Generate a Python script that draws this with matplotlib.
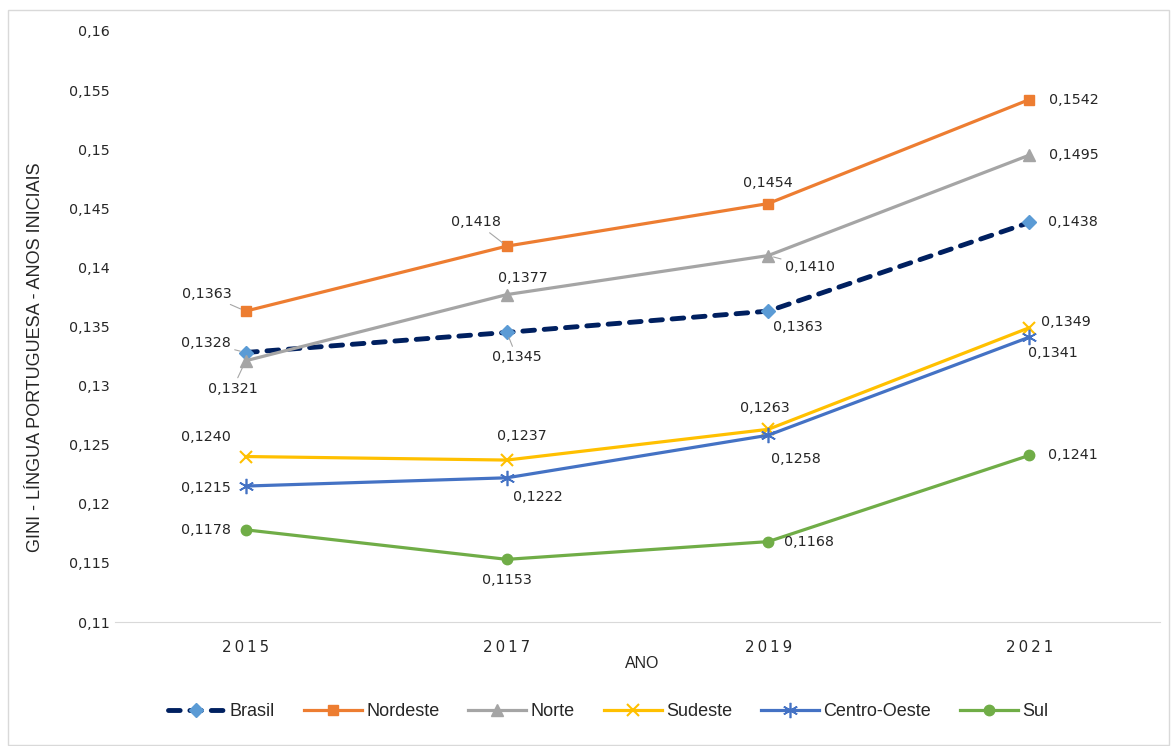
import matplotlib.pyplot as plt
import matplotlib.patches as patches
from matplotlib.ticker import FuncFormatter

anos = ['2015', '2017', '2019', '2021']

brasil = [0.1328, 0.1345, 0.1363, 0.1438]
nordeste = [0.1363, 0.1418, 0.1454, 0.1542]
norte = [0.1321, 0.1377, 0.1410, 0.1495]
sudeste = [0.1240, 0.1237, 0.1263, 0.1349]
centro_oeste = [0.1215, 0.1222, 0.1258, 0.1341]
sul = [0.1178, 0.1153, 0.1168, 0.1241]

nomes = ['Brasil', 'Nordeste', 'Norte', 'Sudeste', 'Centro-Oeste', 'Sul']
series = [brasil, nordeste, norte, sudeste, centro_oeste, sul]

# style per series: color, marker color, marker, marker size
estilos = [
    dict(color='#002060', mfc='#5B9BD5', mec='#5B9BD5', marker='D', ms=7.5),
    dict(color='#ED7D31', mfc='#ED7D31', mec='#ED7D31', marker='s', ms=7.5),
    dict(color='#A5A5A5', mfc='#A5A5A5', mec='#A5A5A5', marker='^', ms=9),
    dict(color='#FFC000', mfc='#FFC000', mec='#FFC000', marker='x', ms=9, mew=1.5),
    dict(color='#4472C4', mfc='#4472C4', mec='#4472C4', marker=(6, 2, 0), ms=11, mew=1.2),
    dict(color='#70AD47', mfc='#70AD47', mec='#70AD47', marker='o', ms=7.5),
]

# label offsets in pixels (dx, dy) and whether a leader line is drawn
offsets = [
    [(-40, 10, True), (10, -25, True), (30, -16, False), (44, 0, False)],
    [(-39, 17, True), (-31, 24, True), (0, 21, False), (44, 0, False)],
    [(-13, -28, True), (16, 17, False), (42, -11, True), (44, 0, False)],
    [(-40, 20, False), (15, 24, False), (-3, 21, False), (37, 6, False)],
    [(-40, -2, False), (31, -19, False), (28, -24, False), (24, -16, False)],
    [(-40, 0, False), (0, -21, False), (41, 0, False), (44, 0, False)],
]

W, H = 1171, 746
fig = plt.figure(figsize=(W / 100, H / 100), dpi=100)
ax = fig.add_axes([115 / W, 1 - 622 / H, (1160 - 115) / W, (622 - 31) / H])

x = list(range(len(anos)))
for nome, vals, st, offs in zip(nomes, series, estilos, offsets):
    kw = dict(st)
    if nome == 'Brasil':
        line, = ax.plot(x, vals, lw=3.5, label=nome, dash_capstyle='round', **kw)
        line.set_dashes((2.4, 2.0))
    else:
        ax.plot(x, vals, lw=2.3, label=nome, **kw)
    for xi, v, (dx, dy, lead) in zip(x, vals, offs):
        txt = f'{v:.4f}'.replace('.', ',')
        ap = None
        if lead:
            ap = dict(arrowstyle='-', color='#A6A6A6', lw=0.8, shrinkA=1, shrinkB=4)
        ax.annotate(txt, (xi, v), xytext=(dx, dy), textcoords='offset pixels',
                    ha='center', va='center', fontsize=10.3, color='#262626',
                    family='DejaVu Sans', arrowprops=ap)

ax.set_xlim(-0.5, 3.5)
ax.set_ylim(0.11, 0.16)
ax.set_yticks([0.11 + 0.005 * i for i in range(11)])
ax.yaxis.set_major_formatter(FuncFormatter(lambda v, p: f'{v:.3f}'.rstrip('0').replace('.', ',')))
ax.set_xticks(x)
ax.set_xticklabels(['\u2009'.join(a) for a in anos], family='DejaVu Sans', fontsize=10.8, color='#262626')
for lab in ax.get_yticklabels():
    lab.set_family('DejaVu Sans')
    lab.set_fontsize(10.3)
    lab.set_color('#262626')
ax.tick_params(length=0)
ax.tick_params(axis='y', pad=4)
ax.tick_params(axis='x', pad=13)
for s in ['top', 'right', 'left']:
    ax.spines[s].set_visible(False)
ax.spines['bottom'].set_color('#D9D9D9')

fig.text(642 / W, 1 - 663 / H, 'ANO', ha='center', va='center',
         family='Liberation Sans', fontsize=11.5, color='#262626')
fig.text(36 / W, 1 - 357 / H, 'GINI - LÍNGUA PORTUGUESA - ANOS INICIAIS', rotation=90,
         ha='center', va='center', family='Liberation Sans', fontsize=13, color='#262626')

leg = ax.legend(loc='center', bbox_to_anchor=(608 / W, 1 - 712 / H), bbox_transform=fig.transFigure,
                ncol=6, frameon=False, handlelength=3.2, handletextpad=0.25, columnspacing=1.6,
                prop=dict(family='Liberation Sans', size=13))
for t in leg.get_texts():
    t.set_color('#262626')

fig.patches.append(patches.Rectangle((8 / W, 1 / H), 1161 / W, 735 / H, transform=fig.transFigure,
                                     fill=False, edgecolor='#D9D9D9', lw=1))

fig.savefig('out.png', dpi=100, facecolor='white')
